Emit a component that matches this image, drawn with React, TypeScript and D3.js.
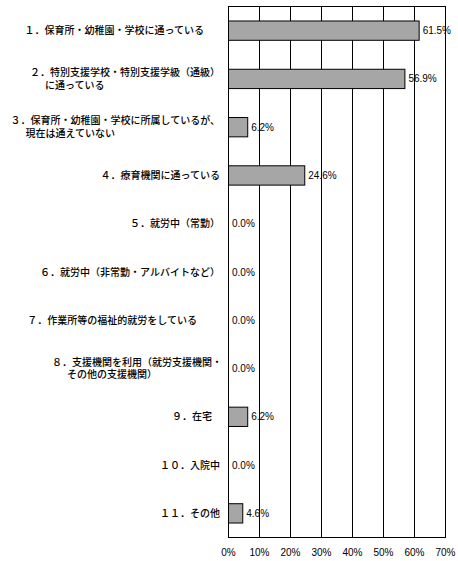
import React, { useRef, useEffect } from 'react';
import * as d3 from 'd3';

// 各項目（改行は \n）
const categories: string[] = [
    '１．保育所・幼稚園・学校に通っている',
    '２．特別支援学校・特別支援学級（通級）\nに通っている',
    '３．保育所・幼稚園・学校に所属しているが、\n現在は通えていない',
    '４．療育機関に通っている',
    '５．就労中（常勤）',
    '６．就労中（非常勤・アルバイトなど）',
    '７．作業所等の福祉的就労をしている',
    '８．支援機関を利用（就労支援機関・\nその他の支援機関）',
    '９．在宅',
    '１０．入院中',
    '１１．その他',
];

const values: number[] = [61.5, 56.9, 6.2, 24.6, 0.0, 0.0, 0.0, 0.0, 6.2, 0.0, 4.6];

const ticks: number[] = [0, 10, 20, 30, 40, 50, 60, 70];

// label nudges (px) to follow the hand-placed text boxes of the original
const labelShift: number[] = [-16, 0, 0, 0, 0, 0, -23, 2, -8, 0, 0];

const WIDTH = 458;
const HEIGHT = 561;

const App: React.FC = () => {
    const svgRef = useRef<SVGSVGElement | null>(null);

    useEffect(() => {
        if (!svgRef.current) return;
        const svg = d3.select(svgRef.current);
        svg.selectAll('*').remove();

        const left = 228.5;
        const right = 445.5;
        const top = 6.5;
        const bottom = 537.5;

        const x = d3.scaleLinear().domain([0, 70]).range([left, right]);
        const y = d3.scaleBand<number>()
            .domain(d3.range(categories.length))
            .range([top, bottom])
            .paddingInner(0.6)
            .paddingOuter(0.3);

        const jpFont = '"Noto Sans CJK JP", sans-serif';
        const numFont = '"Liberation Sans", Arial, sans-serif';

        // grid lines
        svg.append('g')
            .selectAll('line')
            .data(ticks)
            .enter()
            .append('line')
            .attr('x1', d => x(d))
            .attr('x2', d => x(d))
            .attr('y1', top)
            .attr('y2', bottom)
            .attr('stroke', '#000')
            .attr('stroke-width', 1);

        svg.append('rect')
            .attr('x', left)
            .attr('y', top)
            .attr('width', right - left)
            .attr('height', bottom - top)
            .attr('fill', 'none')
            .attr('stroke', '#000')
            .attr('stroke-width', 1);

        // bars
        svg.append('g')
            .selectAll('rect')
            .data(values.map((v, i) => ({ v, i })).filter(d => d.v > 0))
            .enter()
            .append('rect')
            .attr('x', x(0))
            .attr('y', d => y(d.i)!)
            .attr('width', d => x(d.v) - x(0))
            .attr('height', y.bandwidth())
            .attr('fill', '#a6a6a6')
            .attr('stroke', '#000')
            .attr('stroke-width', 1);

        // value labels
        svg.append('g')
            .selectAll('text')
            .data(values)
            .enter()
            .append('text')
            .attr('x', d => x(d) + 3.5)
            .attr('y', (_, i) => y(i)! + y.bandwidth() / 2 + 3.5)
            .style('font-family', numFont)
            .style('font-size', '10px')
            .attr('fill', '#000')
            .text(d => `${d.toFixed(1)}%`);

        // category labels
        const labelX = 220;
        const lineGap = 12.5;
        const cat = svg.append('g')
            .style('font-family', jpFont)
            .style('font-size', '10px')
            .style('font-weight', 500)
            .attr('fill', '#000');

        categories.forEach((c, i) => {
            const lines = c.split('\n');
            const cy = y(i)! + y.bandwidth() / 2;
            const y0 = cy - ((lines.length - 1) * lineGap) / 2 + 3.5;
            const first = cat.append('text')
                .attr('x', labelX + labelShift[i])
                .attr('y', y0)
                .attr('text-anchor', 'end')
                .text(lines[0]);
            if (lines.length > 1) {
                const w = (first.node() as SVGTextElement).getComputedTextLength();
                const start = labelX + labelShift[i] - w;
                lines.slice(1).forEach((l, k) => {
                    cat.append('text')
                        .attr('x', start + 15)
                        .attr('y', y0 + lineGap * (k + 1))
                        .text(l);
                });
            }
        });

        // tick labels
        svg.append('g')
            .selectAll('text')
            .data(ticks)
            .enter()
            .append('text')
            .attr('x', d => x(d))
            .attr('y', 556)
            .attr('text-anchor', 'middle')
            .style('font-family', numFont)
            .style('font-size', '10px')
            .attr('fill', '#000')
            .text(d => `${d}%`);
    }, []);

    return (
        <svg
            ref={svgRef}
            width={WIDTH}
            height={HEIGHT}
            style={{ position: 'absolute', left: 0, top: 0, background: '#fff' }}
        />
    );
};

export default App;
